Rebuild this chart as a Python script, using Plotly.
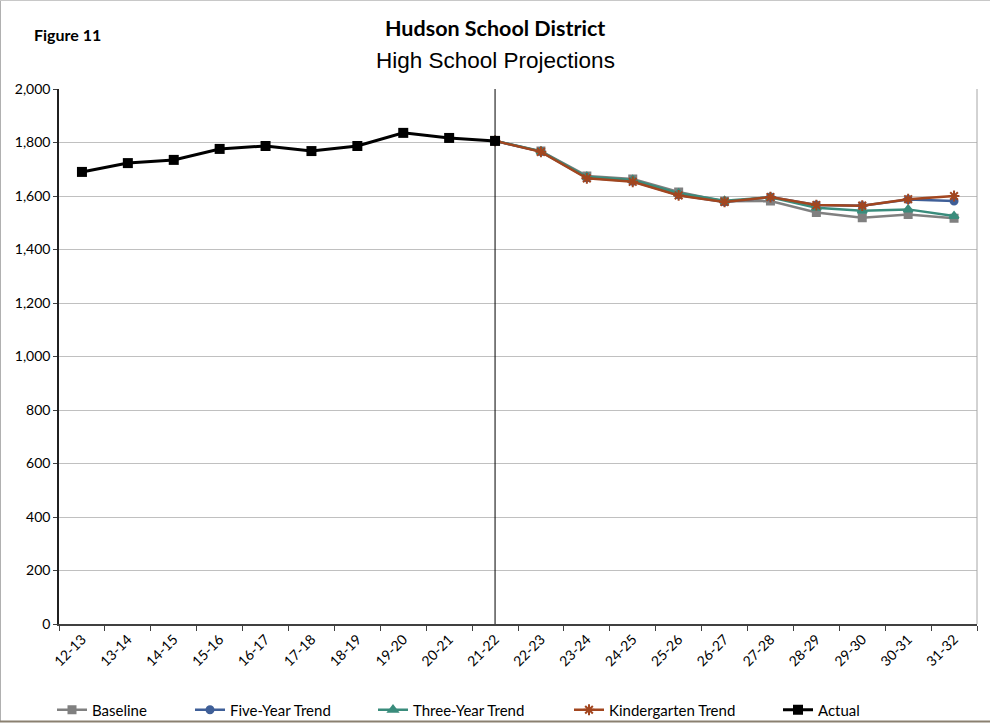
import plotly.graph_objects as go

years = ["12-13", "13-14", "14-15", "15-16", "16-17", "17-18", "18-19", "19-20", "20-21", "21-22",
         "22-23", "23-24", "24-25", "25-26", "26-27", "27-28", "28-29", "29-30", "30-31", "31-32"]

actual = [1690, 1723, 1735, 1776, 1787, 1768, 1787, 1836, 1817, 1806]
proj_years = years[9:]
baseline = [1806, 1768, 1675, 1664, 1615, 1580, 1581, 1538, 1519, 1531, 1517]
five_year = [1806, 1766, 1668, 1655, 1604, 1578, 1596, 1566, 1564, 1587, 1581]
three_year = [1806, 1767, 1672, 1660, 1610, 1582, 1595, 1556, 1545, 1550, 1525]
kinder = [1806, 1765, 1666, 1653, 1602, 1578, 1596, 1566, 1564, 1588, 1600]

y_ticks = [0, 200, 400, 600, 800, 1000, 1200, 1400, 1600, 1800, 2000]

FONT = "Lato"

W, H = 990, 724
L, R, T, B = 59, 13, 89, 100
PW, PH = W - L - R, H - T - B


def px_x(px):
    return (px - L) / PW


def px_y(py):
    return (H - B - py) / PH


fig = go.Figure()

series = [
    ("Baseline", proj_years, baseline, "#808080", "square", 7, "legend"),
    ("Five-Year Trend", proj_years, five_year, "#3F5F98", "circle", 7, "legend2"),
    ("Three-Year Trend", proj_years, three_year, "#3A8C7C", "triangle-up", 8, "legend3"),
    ("Kindergarten Trend", proj_years, kinder, "#A2461F", "asterisk-open", 9, "legend4"),
]
for name, xs, ys, col, sym, size, leg in series:
    fig.add_trace(go.Scatter(
        x=xs, y=ys, name=name, mode="lines+markers",
        line=dict(color=col, width=2.5),
        marker=dict(symbol=sym, size=size, color=col, line=dict(color=col, width=2)),
        legend=leg,
    ))

fig.add_trace(go.Scatter(
    x=years[:10], y=actual, name="Actual", mode="lines+markers",
    line=dict(color="#000000", width=3),
    marker=dict(symbol="square", size=10, color="#000000"),
    legend="legend5",
))

# vertical divider at the last actual year
div_idx = years.index("21-22")
fig.add_shape(type="line", xref="x", yref="paper", x0=div_idx, x1=div_idx, y0=0, y1=1,
              line=dict(color="#000000", width=1))
# right border of plot area
fig.add_shape(type="line", xref="paper", yref="paper", x0=1, x1=1, y0=0, y1=1,
              line=dict(color="#a6a6a6", width=1))
# outer frame of the picture
fig.add_shape(type="line", xref="paper", yref="paper", x0=px_x(0.5), x1=px_x(0.5), y0=px_y(0), y1=px_y(722),
              line=dict(color="#b0b0b0", width=1))
fig.add_shape(type="line", xref="paper", yref="paper", x0=px_x(0), x1=px_x(990), y0=px_y(0.5), y1=px_y(0.5),
              line=dict(color="#c8c8c8", width=1))
fig.add_shape(type="line", xref="paper", yref="paper", x0=px_x(0), x1=px_x(990), y0=px_y(721.5), y1=px_y(721.5),
              line=dict(color="#8a8070", width=2))

fig.add_annotation(text="<b>Figure 11</b>", xref="paper", yref="paper", x=px_x(32), y=px_y(35),
                   xanchor="left", yanchor="middle", showarrow=False,
                   font=dict(family=FONT, size=16, color="#000000"))
fig.add_annotation(text="<b>Hudson School District</b>", xref="paper", yref="paper", x=px_x(495), y=px_y(28),
                   xanchor="center", yanchor="middle", showarrow=False,
                   font=dict(family=FONT, size=21.5, color="#000000"))
fig.add_annotation(text="High School Projections", xref="paper", yref="paper", x=px_x(495), y=px_y(60),
                   xanchor="center", yanchor="middle", showarrow=False,
                   font=dict(family="Liberation Sans, Arial", size=22.5, color="#000000"))

legend_x = [52, 190, 373, 569, 778]
leg_common = dict(orientation="h", yanchor="middle", y=px_y(710), xanchor="left",
                  font=dict(family=FONT, size=15, color="#000000"), bgcolor="rgba(0,0,0,0)",
                  itemwidth=30, tracegroupgap=0)
fig.update_layout(
    legend=dict(x=px_x(legend_x[0]), **leg_common),
    legend2=dict(x=px_x(legend_x[1]), **leg_common),
    legend3=dict(x=px_x(legend_x[2]), **leg_common),
    legend4=dict(x=px_x(legend_x[3]), **leg_common),
    legend5=dict(x=px_x(legend_x[4]), **leg_common),
)

fig.update_layout(
    width=W, height=H,
    margin=dict(l=L, r=R, t=T, b=B, autoexpand=False),
    paper_bgcolor="#ffffff", plot_bgcolor="#ffffff",
    font=dict(family=FONT, size=14, color="#000000"),
    showlegend=True,
    xaxis=dict(
        type="category", categoryorder="array", categoryarray=years,
        tickangle=-45, ticks="outside", tickson="boundaries", ticklen=5, tickcolor="#404040",
        showline=True, linecolor="#404040", linewidth=1.5, showgrid=False,
        tickfont=dict(family=FONT, size=14), range=[-0.5, len(years) - 0.5],
    ),
    yaxis=dict(
        range=[0, 2000], tickvals=y_ticks, ticktext=[f"{v:,}" for v in y_ticks],
        ticks="outside", ticklen=4, tickcolor="#404040",
        showline=True, linecolor="#202020", linewidth=1.5,
        showgrid=True, gridcolor="#c0c0c0", gridwidth=1.3, zeroline=False,
        tickfont=dict(family=FONT, size=14),
    ),
)

fig.write_html("out.html", config={"displayModeBar": False},
               post_script="document.body.style.margin='0px';document.body.style.overflow='hidden';")
